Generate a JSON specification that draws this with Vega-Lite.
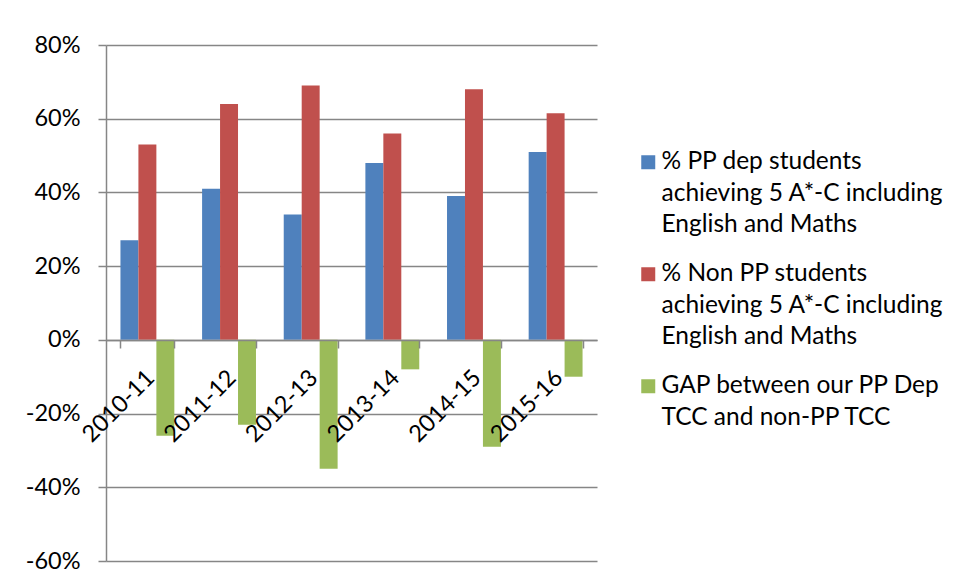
{
  "$schema": "https://vega.github.io/schema/vega-lite/v6.json",
  "autosize": "none",
  "width": 491,
  "height": 516,
  "padding": {"left": 106, "top": 45, "right": 362, "bottom": 23},
  "background": "white",
  "config": {
    "view": {"stroke": null},
    "font": "Lato",
    "style": {"guide-label": {"lineHeight": 31.5}}
  },
  "data": {
    "values": [
      {"year": "2010-11", "series": "% PP dep students achieving 5 A*-C including English and Maths", "value": 0.27},
      {"year": "2010-11", "series": "% Non PP students achieving 5 A*-C including English and Maths", "value": 0.53},
      {"year": "2010-11", "series": "GAP between our PP Dep TCC and non-PP TCC", "value": -0.26},
      {"year": "2011-12", "series": "% PP dep students achieving 5 A*-C including English and Maths", "value": 0.41},
      {"year": "2011-12", "series": "% Non PP students achieving 5 A*-C including English and Maths", "value": 0.64},
      {"year": "2011-12", "series": "GAP between our PP Dep TCC and non-PP TCC", "value": -0.23},
      {"year": "2012-13", "series": "% PP dep students achieving 5 A*-C including English and Maths", "value": 0.34},
      {"year": "2012-13", "series": "% Non PP students achieving 5 A*-C including English and Maths", "value": 0.69},
      {"year": "2012-13", "series": "GAP between our PP Dep TCC and non-PP TCC", "value": -0.35},
      {"year": "2013-14", "series": "% PP dep students achieving 5 A*-C including English and Maths", "value": 0.48},
      {"year": "2013-14", "series": "% Non PP students achieving 5 A*-C including English and Maths", "value": 0.56},
      {"year": "2013-14", "series": "GAP between our PP Dep TCC and non-PP TCC", "value": -0.08},
      {"year": "2014-15", "series": "% PP dep students achieving 5 A*-C including English and Maths", "value": 0.39},
      {"year": "2014-15", "series": "% Non PP students achieving 5 A*-C including English and Maths", "value": 0.68},
      {"year": "2014-15", "series": "GAP between our PP Dep TCC and non-PP TCC", "value": -0.29},
      {"year": "2015-16", "series": "% PP dep students achieving 5 A*-C including English and Maths", "value": 0.51},
      {"year": "2015-16", "series": "% Non PP students achieving 5 A*-C including English and Maths", "value": 0.615},
      {"year": "2015-16", "series": "GAP between our PP Dep TCC and non-PP TCC", "value": -0.10}
    ]
  },
  "mark": {"type": "bar"},
  "encoding": {
    "x": {
      "field": "year",
      "type": "nominal",
      "sort": null,
      "scale": {"paddingInner": 0.34, "paddingOuter": 0.177},
      "axis": {
        "title": null,
        "offset": -221,
        "zindex": 1,
        "grid": false,
        "tickBand": "extent",
        "tickSize": 8,
        "tickWidth": 1.5,
        "tickColor": "#868686",
        "domainColor": "#868686",
        "domainWidth": 1.5,
        "labelAngle": -45,
        "labelAlign": "right",
        "labelBaseline": "middle",
        "labelPadding": 26,
        "labelOffset": 3,
        "labelFontSize": 23.5,
        "labelColor": "#000000",
        "labelFont": "Lato"
      }
    },
    "xOffset": {
      "field": "series",
      "sort": [
        "% PP dep students achieving 5 A*-C including English and Maths",
        "% Non PP students achieving 5 A*-C including English and Maths",
        "GAP between our PP Dep TCC and non-PP TCC"
      ]
    },
    "y": {
      "field": "value",
      "type": "quantitative",
      "scale": {"domain": [-0.6, 0.8], "nice": false, "zero": false},
      "axis": {
        "title": null,
        "values": [-0.6, -0.4, -0.2, 0, 0.2, 0.4, 0.6, 0.8],
        "labelExpr": "replace(format(datum.value, '.0%'), '\u2212', '-')",
        "grid": true,
        "gridColor": "#868686",
        "gridWidth": 1.5,
        "tickColor": "#868686",
        "tickWidth": 1.5,
        "tickSize": 8,
        "domainColor": "#868686",
        "domainWidth": 1.5,
        "labelPadding": 18,
        "labelFontSize": 23.5,
        "labelColor": "#000000",
        "labelFont": "Lato"
      }
    },
    "color": {
      "field": "series",
      "type": "nominal",
      "scale": {
        "domain": [
          "% PP dep students achieving 5 A*-C including English and Maths",
          "% Non PP students achieving 5 A*-C including English and Maths",
          "GAP between our PP Dep TCC and non-PP TCC"
        ],
        "range": ["#4F81BD", "#C0504D", "#9BBB59"]
      },
      "legend": {
        "orient": "none",
        "legendX": 530,
        "legendY": 105,
        "title": null,
        "padding": 0,
        "symbolType": "square",
        "symbolSize": 196,
        "symbolStrokeWidth": 0,
        "labelOffset": 1,
        "labelFontSize": 24.5,
        "labelFont": "Lato",
        "labelColor": "#000000",
        "labelLimit": 0,
        "rowPadding": 24,
        "labelExpr": "indexof(datum.label, '% PP') == 0 ? ['% PP dep students', 'achieving 5 A*-C including', 'English and Maths'] : indexof(datum.label, '% Non') == 0 ? ['% Non PP students', 'achieving 5 A*-C including', 'English and Maths'] : ['GAP between our PP Dep', 'TCC and non-PP TCC']"
      }
    }
  }
}
